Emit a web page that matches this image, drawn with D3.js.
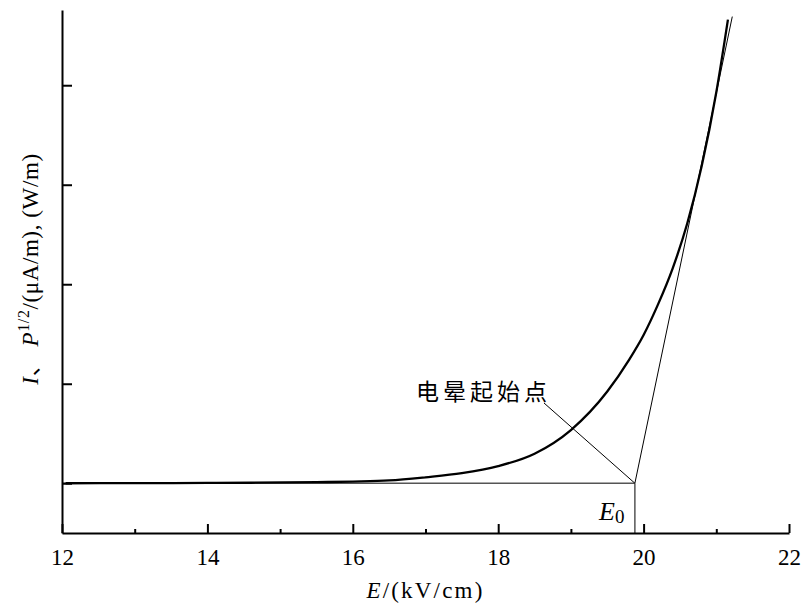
<!DOCTYPE html>
<html>
<head>
<meta charset="utf-8">
<script src="https://cdn.jsdelivr.net/npm/d3@7"></script>
<style>
  body { margin: 0; background: #fff; }
</style>
</head>
<body>
<div id="graph"></div>
<script>
// field strength E (kV/cm) and current / sqrt(power)
var fieldE  = [12.05, 13.0, 14.0, 14.6, 15.5, 16.0, 16.5, 17.0, 17.5, 18.0, 18.5, 19.0, 19.5, 19.8, 20.0, 20.2, 20.4, 20.6, 20.8, 21.0, 21.16]
var current = [0.000, 0.001, 0.003, 0.005, 0.011, 0.017, 0.028, 0.060, 0.101, 0.172, 0.297, 0.535, 0.922, 1.24, 1.49, 1.80, 2.16, 2.61, 3.19, 3.93, 4.66]

// tangent line through the onset point
var onsetE = 19.88
var tangentE = [19.88, 21.22]
var tangentV = [0, 4.69]

var xMajor = [12, 14, 16, 18, 20, 22]
var xMinor = [13, 15, 17, 19, 21]
var yTicks = [0, 1, 2, 3, 4]

var serif = "'Liberation Serif', 'Times New Roman', serif"
var cjk = "'Noto Sans CJK SC', sans-serif"

var margin = { top: 10, right: 14, bottom: 82, left: 62 };
var width = 803 - margin.left - margin.right, height = 615 - margin.top - margin.bottom;

var svg = d3.select("#graph").append("svg")
    .attr("width", 803)
    .attr("height", 615)
    .append("g")
    .attr("transform", "translate(" + margin.left + "," + margin.top + ")");

var x = d3.scaleLinear().domain([12, 22]).range([0, width])
var y = d3.scaleLinear().domain([-0.5, 4.756]).range([height, 0])

// baseline and E0 drop line
svg.append("line")
    .attr("x1", x(12)).attr("x2", x(onsetE))
    .attr("y1", y(0)).attr("y2", y(0))
    .attr("stroke", "#555").attr("stroke-width", 1.5)
svg.append("line")
    .attr("x1", x(onsetE)).attr("x2", x(onsetE))
    .attr("y1", y(0)).attr("y2", height)
    .attr("stroke", "#555").attr("stroke-width", 1.5)

// tangent
svg.append("line")
    .attr("x1", x(tangentE[0])).attr("x2", x(tangentE[1]))
    .attr("y1", y(tangentV[0])).attr("y2", y(tangentV[1]))
    .attr("stroke", "#000").attr("stroke-width", 1)

// main curve
var pts = fieldE.map(function (e, i) { return { x: e, y: current[i] } })
var line = d3.line()
    .x(function (d) { return x(d.x) })
    .y(function (d) { return y(d.y) })
    .curve(d3.curveMonotoneX)
svg.append("path")
    .datum(pts)
    .attr("d", line)
    .attr("fill", "none")
    .attr("stroke", "#000")
    .attr("stroke-width", 2.3)

// label + leader line
svg.append("line")
    .attr("x1", 482).attr("y1", 393)
    .attr("x2", x(onsetE)).attr("y2", y(0))
    .attr("stroke", "#000").attr("stroke-width", 1)
svg.append("text")
    .attr("x", 354).attr("y", 390)
    .style("font-family", cjk)
    .style("font-size", "23px")
    .style("letter-spacing", "4px")
    .text("电晕起始点")

// E0 label
var e0 = svg.append("text")
    .attr("x", 599 - margin.left).attr("y", 520 - margin.top)
    .style("font-family", serif)
    .style("font-size", "26px")
e0.append("tspan").style("font-style", "italic").text("E")
e0.append("tspan").attr("dy", 3).style("font-size", "19px").text("0")

// x axis
var xAxis = d3.axisBottom(x).tickValues(xMajor).tickSize(-9).tickSizeOuter(0).tickPadding(16)
var gx = svg.append("g")
    .attr("transform", "translate(0," + height + ")")
    .call(xAxis)
gx.selectAll("text").style("font-size", "23px").style("font-family", serif)
gx.selectAll("line, path").attr("stroke", "#000").attr("stroke-width", 2)
var gxm = svg.append("g")
    .attr("transform", "translate(0," + height + ")")
    .call(d3.axisBottom(x).tickValues(xMinor).tickSize(-4).tickFormat(""))
gxm.select(".domain").remove()
gxm.selectAll("line").attr("stroke", "#000").attr("stroke-width", 2)

// y axis
var gy = svg.append("g")
    .call(d3.axisLeft(y).tickValues(yTicks).tickSize(-10).tickSizeOuter(0).tickFormat(""))
gy.selectAll("line, path").attr("stroke", "#000").attr("stroke-width", 2)

// axis titles
var xt = svg.append("text")
    .attr("x", width / 2).attr("y", 598 - margin.top)
    .attr("text-anchor", "middle")
    .style("font-family", serif)
    .style("font-size", "23px")
    .style("letter-spacing", "2.2px")
xt.append("tspan").style("font-style", "italic").text("E")
xt.append("tspan").text("/(kV/cm)")

var yt = svg.append("text")
    .attr("transform", "translate(" + (38 - margin.left) + "," + (269 - margin.top) + ") rotate(-90)")
    .attr("text-anchor", "middle")
    .style("font-family", serif)
    .style("font-size", "23px")
    .style("letter-spacing", "0.6px")
yt.append("tspan").style("font-style", "italic").text("I")
yt.append("tspan").style("font-family", cjk).text("、")
yt.append("tspan").style("font-style", "italic").text(" P")
yt.append("tspan").attr("dy", -9).style("font-size", "16px").text("1/2")
yt.append("tspan").attr("dy", 9).text("/(μA/m), (W/m)")
</script>
</body>
</html>
